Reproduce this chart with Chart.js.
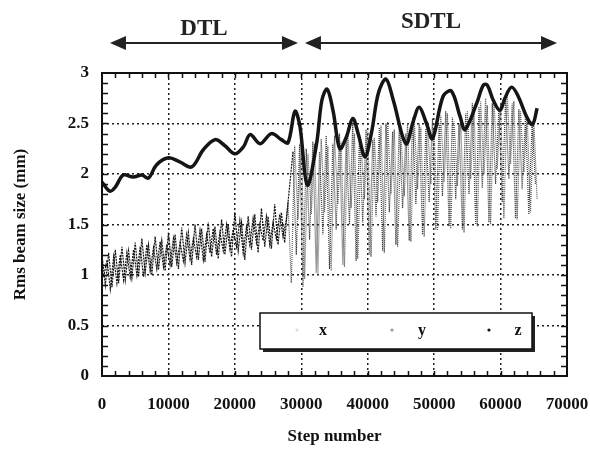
<!DOCTYPE html>
<html lang="en">
<head>
    <meta charset="UTF-8">
    <title>Rms beam size - DTL / SDTL</title>
    <script src="https://cdn.jsdelivr.net/npm/chart.js"></script>
    <style>
        body {
            margin: 0;
            background-color: #fff;
        }
        canvas {
            display: block;
        }
    </style>
</head>
<body>

<canvas id="graficoRms" width="590" height="450"></canvas>

<script>
    // x and y envelopes, DTL part: x sampled every 500 steps from 0, y every 500 from 250
    const xDtl = [
        1.20, 0.90, 1.22, 0.88, 1.25, 0.92, 1.28, 0.95, 1.24, 0.97,
        1.32, 0.98, 1.36, 1.02, 1.30, 1.00, 1.38, 1.05, 1.34, 1.04,
        1.42, 1.08, 1.40, 1.06, 1.47, 1.12, 1.42, 1.10, 1.50, 1.15,
        1.46, 1.13, 1.52, 1.18, 1.48, 1.16, 1.55, 1.20, 1.50, 1.18,
        1.62, 1.24, 1.52, 1.15, 1.58, 1.25, 1.60, 1.22, 1.66, 1.28,
        1.58, 1.26, 1.70, 1.30, 1.62, 1.32, 1.72
    ];
    const yDtl = [
        0.98, 1.15, 0.86, 1.18, 0.92, 1.20, 0.95, 1.22, 0.98, 1.25,
        1.00, 1.28, 0.98, 1.30, 1.04, 1.27, 1.06, 1.33, 1.08, 1.30,
        1.10, 1.36, 1.12, 1.32, 1.14, 1.40, 1.16, 1.36, 1.18, 1.44,
        1.15, 1.40, 1.22, 1.46, 1.20, 1.42, 1.24, 1.50, 1.26, 1.45,
        1.28, 1.54, 1.22, 1.48, 1.30, 1.56, 1.32, 1.50, 1.34, 1.58,
        1.30, 1.52, 1.36, 1.60, 1.38, 1.55
    ];
    // SDTL part, also every 500 steps: x from 28500, y from 28750
    const xSdtl = [
        0.92, 2.28, 1.55, 2.32, 0.96, 2.20, 1.60, 2.30, 1.00, 2.35,
        1.62, 2.28, 1.04, 2.38, 1.70, 2.32, 1.08, 2.45, 1.66, 2.40,
        1.16, 2.30, 1.75, 2.42, 1.18, 2.36, 1.72, 2.48, 1.22, 2.52,
        1.80, 2.44, 1.28, 2.40, 1.78, 2.50, 1.33, 2.55, 1.85, 2.46,
        1.38, 2.52, 1.90, 2.42, 1.44, 2.58, 1.92, 2.60, 1.46, 2.52,
        1.88, 2.56, 1.42, 2.62, 1.95, 2.66, 1.48, 2.72, 2.00, 2.68,
        1.50, 2.74, 2.05, 2.70, 1.56, 2.80, 2.10, 2.72, 1.55, 2.62,
        2.02, 2.58, 1.62, 2.55, 1.75
    ];
    const ySdtl = [
        2.22, 1.20, 2.30, 0.88, 2.25, 1.35, 2.32, 1.02, 2.22, 1.40,
        2.38, 1.06, 2.30, 1.45, 2.40, 1.10, 2.34, 1.50, 2.50, 1.14,
        2.36, 1.52, 2.44, 1.20, 2.34, 1.58, 2.46, 1.24, 2.50, 1.62,
        2.42, 1.30, 2.48, 1.66, 2.40, 1.34, 2.56, 1.70, 2.50, 1.40,
        2.45, 1.72, 2.55, 1.45, 2.50, 1.78, 2.62, 1.48, 2.56, 1.75,
        2.50, 1.45, 2.60, 1.80, 2.70, 1.50, 2.66, 1.86, 2.75, 1.52,
        2.70, 1.90, 2.66, 1.72, 2.76, 1.95, 2.70, 1.56, 2.64, 1.85,
        2.58, 1.60, 2.52, 1.90
    ];

    // z envelope
    const zSteps = [
        0, 1200, 2000, 3200, 4700, 6000, 7000, 8200, 10000, 11700,
        13500, 15250, 17000, 18500, 20000, 21300, 22300, 23800, 25500, 27000,
        28000, 29050, 29800, 30900, 32300, 33100, 33900, 34800, 35800, 36800,
        37750, 38600, 39600, 40600, 41600, 42750, 43850, 45750, 46850, 47750,
        48850, 49750, 51350, 52600, 53900, 54650, 56400, 57400, 58000, 58900,
        59900, 60650, 61650, 62650, 63900, 64800, 65500
    ];
    const zValues = [
        1.92, 1.83, 1.87, 1.99, 1.97, 1.99, 1.96, 2.09, 2.16, 2.12,
        2.07, 2.24, 2.34, 2.28, 2.20, 2.27, 2.39, 2.30, 2.40, 2.34,
        2.31, 2.62, 2.47, 1.89, 2.30, 2.73, 2.84, 2.62, 2.25, 2.37,
        2.55, 2.39, 2.17, 2.42, 2.80, 2.94, 2.73, 2.30, 2.52, 2.66,
        2.50, 2.35, 2.77, 2.82, 2.57, 2.44, 2.70, 2.88, 2.88, 2.73,
        2.63, 2.75, 2.86, 2.77, 2.57, 2.49, 2.65
    ];

    const xTicks = [0, 10000, 20000, 30000, 40000, 50000, 60000, 70000];
    const yTicks = [0, 0.5, 1, 1.5, 2, 2.5, 3];

    // machine sections shown above the plot
    const sections = [
        { name: "DTL", from: 1200, to: 29500 },
        { name: "SDTL", from: 30550, to: 68500 }
    ];

    const DTL_END = 28000;
    const serif = "'Liberation Serif', 'Times New Roman', serif";

    function joinParts(dtl, dtlStart, sdtl, sdtlStart) {
        const pts = dtl.map((v, i) => ({ x: dtlStart + i * 500, y: v }));
        return pts.concat(sdtl.map((v, i) => ({ x: sdtlStart + i * 500, y: v })));
    }

    const dotted = (dark, light) => ({
        borderColor: c => (c.p0.parsed.x < DTL_END ? dark : light),
        borderDash: c => (c.p0.parsed.x < DTL_END ? [2, 1] : [1, 1])
    });

    // frame, inward minor ticks, section arrows and the boxed legend
    const decorazioni = {
        id: 'decorazioni',
        afterDraw(chart) {
            const { ctx, chartArea: a, scales } = chart;
            const sx = scales.x, sy = scales.y;
            ctx.save();

            ctx.strokeStyle = '#111';
            ctx.lineWidth = 2;
            ctx.strokeRect(a.left, a.top, a.right - a.left, a.bottom - a.top);

            ctx.lineWidth = 1.5;
            ctx.beginPath();
            for (let s = 2000; s < 70000; s += 2000) {
                const px = Math.round(sx.getPixelForValue(s)) + 0.5;
                ctx.moveTo(px, a.bottom); ctx.lineTo(px, a.bottom - 5);
                ctx.moveTo(px, a.top); ctx.lineTo(px, a.top + 5);
            }
            for (let k = 1; k < 30; k++) {
                const py = Math.round(sy.getPixelForValue(k / 10)) + 0.5;
                ctx.moveTo(a.left, py); ctx.lineTo(a.left + 6, py);
                ctx.moveTo(a.right, py); ctx.lineTo(a.right - 6, py);
            }
            ctx.stroke();

            // DTL / SDTL arrows
            const ay = 43;
            ctx.fillStyle = '#222';
            ctx.strokeStyle = '#222';
            ctx.lineWidth = 2;
            ctx.font = 'bold 23px ' + serif;
            ctx.textAlign = 'center';
            ctx.textBaseline = 'alphabetic';
            sections.forEach((sec, i) => {
                const x0 = sx.getPixelForValue(sec.from);
                const x1 = sx.getPixelForValue(sec.to);
                ctx.beginPath();
                ctx.moveTo(x0 + 10, ay); ctx.lineTo(x1 - 10, ay);
                ctx.stroke();
                ctx.beginPath();
                ctx.moveTo(x0, ay); ctx.lineTo(x0 + 16, ay - 7); ctx.lineTo(x0 + 16, ay + 7);
                ctx.closePath();
                ctx.moveTo(x1, ay); ctx.lineTo(x1 - 16, ay - 7); ctx.lineTo(x1 - 16, ay + 7);
                ctx.closePath();
                ctx.fill();
                ctx.fillText(sec.name, (x0 + x1) / 2, i === 0 ? 35 : 28);
            });

            // legend box with drop shadow
            const lx = 260, ly = 313, lw = 272, lh = 36;
            ctx.fillStyle = '#222';
            ctx.fillRect(lx + 3, ly + 3, lw, lh);
            ctx.fillStyle = '#fff';
            ctx.fillRect(lx, ly, lw, lh);
            ctx.strokeStyle = '#111';
            ctx.lineWidth = 1.5;
            ctx.strokeRect(lx, ly, lw, lh);

            const marks = [
                { x: 297, text: 323, color: '#ddd' },
                { x: 392, text: 422, color: '#999' },
                { x: 489, text: 518, color: '#111' }
            ];
            ctx.font = 'bold 16px ' + serif;
            ctx.textBaseline = 'middle';
            chart.data.datasets.forEach((ds, i) => {
                const m = marks[i];
                ctx.fillStyle = m.color;
                ctx.beginPath();
                ctx.arc(m.x, ly + lh / 2 - 1, 1.6, 0, Math.PI * 2);
                ctx.fill();
                ctx.fillStyle = '#111';
                ctx.fillText(ds.label, m.text, ly + lh / 2);
            });
            ctx.restore();
        }
    };

    const ctx = document.getElementById('graficoRms').getContext('2d');
    const grafico = new Chart(ctx, {
        type: 'line',
        data: {
            datasets: [
                {
                    label: 'x',
                    data: joinParts(xDtl, 0, xSdtl, 28500),
                    borderWidth: 1.2,
                    pointRadius: 0,
                    tension: 0,
                    order: 1,
                    segment: dotted('#111', '#5a5a5a')
                },
                {
                    label: 'y',
                    data: joinParts(yDtl, 250, ySdtl, 28750),
                    borderWidth: 1.2,
                    pointRadius: 0,
                    tension: 0,
                    order: 1,
                    segment: dotted('#111', '#3a3a3a')
                },
                {
                    label: 'z',
                    data: zSteps.map((s, i) => ({ x: s, y: zValues[i] })),
                    borderColor: '#151515',
                    borderWidth: 3.5,
                    pointRadius: 0,
                    tension: 0.35,
                    order: 0
                }
            ]
        },
        options: {
            responsive: false,
            animation: false,
            layout: { padding: { top: 73, right: 23, left: 0, bottom: 0 } },
            plugins: {
                legend: { display: false },
                tooltip: { enabled: false }
            },
            scales: {
                x: {
                    type: 'linear',
                    min: 0,
                    max: 70000,
                    afterBuildTicks: s => { s.ticks = xTicks.map(v => ({ value: v })); },
                    afterFit: s => {
                        s.height = 74;
                        s.paddingLeft = 0;
                        s.paddingRight = 0;
                    },
                    ticks: {
                        color: '#111',
                        padding: 18,
                        maxRotation: 0,
                        font: { family: serif, size: 17, weight: 'bold' },
                        callback: v => String(v)
                    },
                    grid: { color: '#222', lineWidth: 1.5, drawTicks: false },
                    border: { display: false, dash: [2, 3] },
                    title: {
                        display: true,
                        text: 'Step number',
                        color: '#111',
                        padding: { top: 0, bottom: 3 },
                        font: { family: serif, size: 17, weight: 'bold' }
                    }
                },
                y: {
                    min: 0,
                    max: 3,
                    afterBuildTicks: s => { s.ticks = yTicks.map(v => ({ value: v })); },
                    afterFit: s => {
                        s.width = 102;
                        s.paddingTop = 0;
                        s.paddingBottom = 0;
                    },
                    ticks: {
                        color: '#111',
                        padding: 13,
                        font: { family: serif, size: 17, weight: 'bold' },
                        callback: v => String(v)
                    },
                    grid: { color: '#222', lineWidth: 1.5, drawTicks: false },
                    border: { display: false, dash: [2, 3] },
                    title: {
                        display: true,
                        text: 'Rms beam size (mm)',
                        color: '#111',
                        padding: { top: 10, bottom: 0 },
                        font: { family: serif, size: 17, weight: 'bold' }
                    }
                }
            }
        },
        plugins: [decorazioni]
    });
</script>

</body>
</html>
